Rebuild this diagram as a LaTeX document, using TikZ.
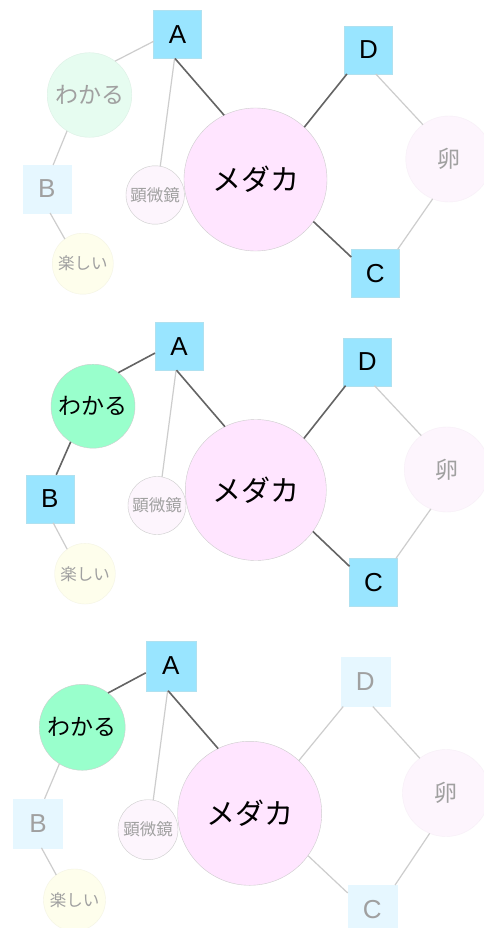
\documentclass[tikz,border=0pt]{standalone}
\usepackage{fontspec}
\setmainfont{Liberation Sans}
\newfontfamily\jp{Noto Sans CJK JP}
\definecolor{sqc}{RGB}{153,229,255}
\definecolor{sqb}{RGB}{175,225,240}
\definecolor{sqfc}{RGB}{230,247,255}
\definecolor{wkc}{RGB}{153,255,204}
\definecolor{wkfc}{RGB}{230,252,240}
\definecolor{mdc}{RGB}{255,229,255}
\definecolor{pkfc}{RGB}{253,245,253}
\definecolor{tnfc}{RGB}{254,254,236}
\definecolor{fadetxt}{RGB}{160,160,160}
\definecolor{edark}{RGB}{100,100,100}
\definecolor{elight}{RGB}{205,205,205}
\definecolor{cborder}{RGB}{205,205,205}
\tikzset{
  sq/.style={rectangle, minimum width=#1, minimum height=#1, inner sep=0pt, outer sep=0pt,
    fill=sqc, draw=sqb, line width=0.4pt, font=\fontsize{26}{26}\selectfont, text=black},
  sqf/.style={sq=#1, fill=sqfc, draw=sqfc, text=fadetxt},
  circ/.style={circle, minimum size=#1, inner sep=0pt, outer sep=0pt, draw=cborder, line width=0.4pt},
  wkon/.style={circ=#1, fill=wkc, text=black, font=\jp\fontsize{23}{23}\selectfont},
  wkoff/.style={circ=#1, fill=wkfc, draw=wkfc!90!gray, text=fadetxt, font=\jp\fontsize{23}{23}\selectfont},
  mdn/.style={circ=#1, fill=mdc, text=black, font=\jp\fontsize{29}{29}\selectfont},
  kbn/.style={circ=#1, fill=pkfc, text=fadetxt, font=\jp\fontsize{16.5}{16.5}\selectfont},
  tnn/.style={circ=#1, fill=tnfc, draw=tnfc!92!gray, text=fadetxt, font=\jp\fontsize{16.5}{16.5}\selectfont},
  eggn/.style={circ=#1, fill=pkfc, draw=pkfc!95!gray, text=fadetxt, font=\jp\fontsize{23}{23}\selectfont},
  edon/.style={draw=edark, line width=1.6pt},
  edoff/.style={draw=elight, line width=1.2pt},
}
\begin{document}
\begin{tikzpicture}[x=1pt,y=-1pt]
\useasboundingbox (0,0) rectangle (484,928);
\clip (0,0) rectangle (484,928);
\fill[white] (0,0) rectangle (484,928);

% ---------- panel 1 ----------
\node[sq=48pt]    (A1)  at (177.5,34.5) {A};
\node[sq=48pt]    (D1)  at (368.5,50)   {D};
\node[sq=48pt]    (C1)  at (375.3,273.3) {C};
\node[sqf=48pt]   (B1)  at (46.7,189)   {B};
\node[wkoff=84.6pt] (wk1) at (89.5,95) {わかる};
\node[mdn=143pt]  (md1) at (255.5,179.5) {メダカ};
\node[kbn=58.4pt] (kb1) at (155.2,195) {顕微鏡};
\node[tnn=61pt]   (tn1) at (82.8,263.7) {楽しい};
\node[eggn=86pt]  (eg1) at (448.8,159) {卵};
\draw[edoff] (A1.196) -- (wk1.53);
\draw[edoff] (A1.-97) -- (kb1.80);
\draw[edon]  (A1.-96) -- (md1.116);
\draw[edoff] (wk1.238) -- (B1.75);
\draw[edoff] (B1.-82) -- (tn1.126);
\draw[edon]  (md1.47.5) -- (D1.228);
\draw[edoff] (D1.-73) -- (eg1.127);
\draw[edoff] (eg1.248) -- (C1.47);
\draw[edon]  (md1.-36) -- (C1.146);

% ---------- panel 2 ----------
\node[sq=48pt]    (A2)  at (179,346.2) {A};
\node[sq=48pt]    (D2)  at (367.2,361.7) {D};
\node[sq=48pt]    (C2)  at (373.5,582.5) {C};
\node[sq=48pt]    (B2)  at (49.8,498.8) {B};
\node[wkon=84pt]  (wk2) at (93,406.2) {わかる};
\node[mdn=141pt]  (md2) at (255.8,490) {メダカ};
\node[kbn=58pt]   (kb2) at (157,505.5) {顕微鏡};
\node[tnn=60.6pt] (tn2) at (85,573.7) {楽しい};
\node[eggn=85pt]  (eg2) at (446.8,469.5) {卵};
\draw[edon]  (A2.196) -- (wk2.53);
\draw[edoff] (A2.-97) -- (kb2.80);
\draw[edon]  (A2.-96) -- (md2.116);
\draw[edon]  (wk2.238) -- (B2.75);
\draw[edoff] (B2.-82) -- (tn2.126);
\draw[edon]  (md2.47.5) -- (D2.228);
\draw[edoff] (D2.-73) -- (eg2.127);
\draw[edoff] (eg2.248) -- (C2.47);
\draw[edon]  (md2.-36) -- (C2.146);

% ---------- panel 3 ----------
\node[sq=50pt]    (A3)  at (170.7,665.7) {A};
\node[sqf=49pt]   (D3)  at (365.3,682) {D};
\node[sqf=49pt]   (C3)  at (372.2,909.5) {C};
\node[sqf=49pt]   (B3)  at (38,823.3) {B};
\node[wkon=86pt]  (wk3) at (82.2,727.3) {わかる};
\node[mdn=144pt]  (md3) at (249.7,813.3) {メダカ};
\node[kbn=60pt]   (kb3) at (148,829.7) {顕微鏡};
\node[tnn=62pt]   (tn3) at (74.5,900) {楽しい};
\node[eggn=87pt]  (eg3) at (446,793) {卵};
\draw[edon]  (A3.196) -- (wk3.53);
\draw[edoff] (A3.-97) -- (kb3.80);
\draw[edon]  (A3.-96) -- (md3.116);
\draw[edoff] (wk3.238) -- (B3.75);
\draw[edoff] (B3.-82) -- (tn3.126);
\draw[edoff] (md3.47.5) -- (D3.228);
\draw[edoff] (D3.-73) -- (eg3.127);
\draw[edoff] (eg3.248) -- (C3.47);
\draw[edoff] (md3.-36) -- (C3.146);
\end{tikzpicture}
\end{document}
